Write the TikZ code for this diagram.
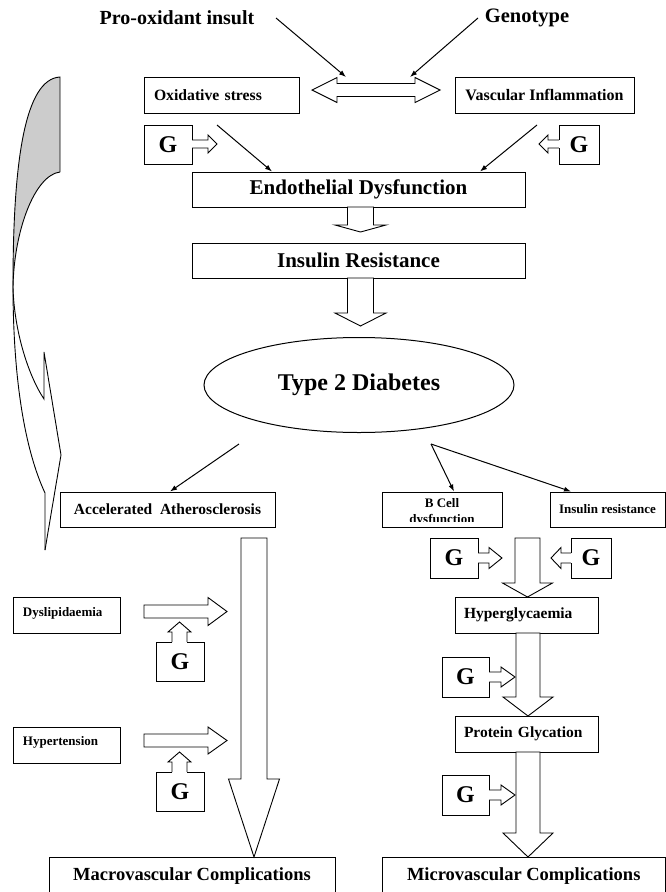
\documentclass[tikz,border=0pt]{standalone}
\usepackage{fontspec}
\setmainfont{Liberation Serif}
\usetikzlibrary{arrows.meta,shapes.geometric}
\newcommand{\fs}[1]{\fontsize{#1}{#1}\selectfont\bfseries}
% horizontal block arrow: #1 base x, #2 head-start x, #3 tip x, #4 centre y, #5 shaft half, #6 head half
\newcommand{\rightblk}[6]{\draw[blk] (#1,#4-#5) -- (#2,#4-#5) -- (#2,#4-#6) -- (#3,#4) -- (#2,#4+#6) -- (#2,#4+#5) -- (#1,#4+#5) -- cycle;}
% same, open at its base (merging into a box); #7 signed overlap into the box
\newcommand{\rightopen}[7]{\fill[white] (#1+#7,#4-#5) rectangle (#2,#4+#5);
  \draw[blk,fill=none] (#1,#4-#5) -- (#2,#4-#5) -- (#2,#4-#6) -- (#3,#4) -- (#2,#4+#6) -- (#2,#4+#5) -- (#1,#4+#5);
  \fill[white] (#1+#7,#4-#5+0.5) rectangle (#1,#4+#5-0.5);}
% vertical block arrow: #1 centre x, #2 base y, #3 head-start y, #4 tip y, #5 shaft half, #6 head half
\newcommand{\downblk}[6]{\draw[blk] (#1-#5,#2) -- (#1-#5,#3) -- (#1-#6,#3) -- (#1,#4) -- (#1+#6,#3) -- (#1+#5,#3) -- (#1+#5,#2) -- cycle;}
\newcommand{\downopen}[7]{\fill[white] (#1-#5,#2+#7) rectangle (#1+#5,#3);
  \draw[blk,fill=none] (#1-#5,#2) -- (#1-#5,#3) -- (#1-#6,#3) -- (#1,#4) -- (#1+#6,#3) -- (#1+#5,#3) -- (#1+#5,#2);
  \fill[white] (#1-#5+0.5,#2+#7) rectangle (#1+#5-0.5,#2);}
\begin{document}
\begin{tikzpicture}[x=1pt,y=-1pt,
  box/.style={draw,line width=1pt,inner sep=0pt,align=center},
  gbox/.style={box,font=\fs{24}},
  blk/.style={draw,fill=white,line width=0.9pt,line join=miter},
  thinarr/.style={line width=1pt,-{Latex[length=7pt,width=5pt]}},
  plain/.style={inner sep=0pt}]
\useasboundingbox (0,0) rectangle (666,892);

% left curved arrow
\fill[gray!40] (60,77) .. controls (25,79) and (13,160) .. (13,285)
   .. controls (14,230) and (35,175) .. (60,172) -- cycle;
\draw[line width=0.9pt] (60,172) -- (60,77) .. controls (25,79) and (13,160) .. (13,285)
   .. controls (13,380) and (25,450) .. (45,493) -- (45,550);
\draw[line width=0.9pt,line join=miter] (60,172) .. controls (35,175) and (14,230) .. (13,287)
   .. controls (14,330) and (28,375) .. (44,399) -- (44,352) -- (61,455) -- (45,550);

% top texts
\node[plain,font=\fs{20}] (pro) at (177,18) {Pro-oxidant insult};
\node[plain,font=\fs{20.5}] (geno) at (527,18) {Genotype};

% boxes
\node[box,minimum width=155pt,minimum height=36pt,text width=135pt,align=left,font=\fs{15.7}] (ox) at (221.5,95) {Oxidative stress};
\node[box,minimum width=179pt,minimum height=36pt,font=\fs{16}] (vi) at (544.5,95) {Vascular Inflammation};
\node[gbox,minimum width=48pt,minimum height=39pt] (g1) at (168,144.5) {G};
\node[gbox,minimum width=40pt,minimum height=39pt] (g2) at (579,144.5) {G};
\node[box,minimum width=333pt,minimum height=35pt,font=\fs{21}] (endo) at (358.5,189.5) {Endothelial Dysfunction};
\node[box,minimum width=333pt,minimum height=35pt,font=\fs{21}] (ir) at (358.5,260.5) {Insulin Resistance};
\node[draw,ellipse,line width=1pt,minimum width=310pt,minimum height=95pt,inner sep=0pt,font=\fs{24}] (t2d) at (359,385) {Type 2 Diabetes};

\node[box,minimum width=215pt,minimum height=35pt,font=\fs{15.5}] (aa) at (167.5,509.5) {Accelerated\ \ Atherosclerosis};
\node[box,minimum width=120pt,minimum height=35pt] (bc) at (442,509.5) {};
\node[plain,anchor=base,font=\fs{13}] (bct1) at (442,507.5) {B Cell};
\begin{scope}
\clip (383,493) rectangle (501,521);
\node[plain,anchor=base,font=\fs{13}] (bct2) at (442,523.5) {dysfunction};
\end{scope}
\node[box,minimum width=115pt,minimum height=35pt,font=\fs{13}] (irr) at (607.5,509.5) {Insulin resistance};

\node[gbox,minimum width=48pt,minimum height=40pt] (g3) at (454,558) {G};
\node[gbox,minimum width=40pt,minimum height=40pt] (g4) at (591,558) {G};
\node[box,minimum width=143pt,minimum height=36pt,text width=125pt,align=left,font=\fs{15.5}] (hg) at (526.5,615) {Hyperglycaemia};
\node[gbox,minimum width=47pt,minimum height=40pt] (g5) at (465.5,677) {G};
\node[box,minimum width=143pt,minimum height=36pt,text width=125pt,align=left,font=\fs{15.5}] (pg) at (526.5,734) {Protein Glycation};
\node[gbox,minimum width=47pt,minimum height=40pt] (g6) at (465.5,795) {G};

\node[box,minimum width=107pt,minimum height=36pt,text width=87pt,align=left,text height=9pt,text depth=6pt,font=\fs{13}] (dys) at (66.5,615) {Dyslipidaemia};
\node[box,minimum width=107pt,minimum height=36pt,text width=87pt,align=left,text height=9pt,text depth=9pt,font=\fs{13}] (hyp) at (66.5,745) {Hypertension};
\node[gbox,minimum width=48pt,minimum height=39pt] (g7) at (180,661.5) {G};
\node[gbox,minimum width=48pt,minimum height=39pt] (g8) at (180,791.5) {G};

\node[box,minimum width=286pt,minimum height=38pt,font=\fs{18.5}] (macro) at (192,876) {Macrovascular Complications};
\node[box,minimum width=283.5pt,minimum height=38pt,font=\fs{18.5}] (micro) at (523.75,876) {Microvascular Complications};

% thin arrows
\coordinate (p1) at (276,18); \coordinate (p2) at (346,77);
\coordinate (q1) at (478,18); \coordinate (q2) at (410,77);
\draw[thinarr] (p1) -- (p2);
\draw[thinarr] (q1) -- (q2);
\coordinate (o1) at (217,125); \coordinate (v1) at (537,125);
\draw[thinarr] (o1) -- (endo.north west -| 272,0);
\draw[thinarr] (v1) -- (endo.north west -| 480,0);
\coordinate (d1) at (239,444); \coordinate (d2) at (431,444);
\draw[thinarr] (d1) -- (aa.north west -| 170,0);
\draw[thinarr] (d2) -- (bc.north west -| 454,0);
\draw[thinarr] (d2) -- (irr.north west -| 571,0);

% double block arrow
\draw[blk] (312,90) -- (337,77.5) -- (337,83.5) -- (415,83.5) -- (415,77.5) -- (440,90)
  -- (415,102.5) -- (415,96.5) -- (337,96.5) -- (337,102.5) -- cycle;

% block arrows
\rightopen{192}{208}{217}{144}{4}{9}{-1.5}
\rightopen{559}{548}{539}{144}{4}{9}{1.5}
\downblk{360.5}{207}{225}{232}{13}{25.5}
\downblk{360.5}{278}{313}{326}{13}{25.5}
\rightopen{478}{489}{502}{558}{5}{10.5}{-1.5}
\rightopen{571}{561}{551}{558}{5}{10.5}{1.5}
\downblk{527.5}{538}{583}{597}{12.5}{25}
\downblk{528}{633}{697}{716}{12}{25}
\downblk{528}{752}{833}{857}{12}{25}
\rightopen{489}{501}{515}{677}{5}{10}{-1.5}
\rightopen{489}{501}{515}{795}{5}{10}{-1.5}
\downblk{254}{538}{779}{857}{13}{25.5}
\rightblk{144}{208}{227}{611.5}{6.5}{14}
\rightblk{144}{208}{227}{740.5}{6.5}{13.5}
\downopen{179.5}{642}{632}{622}{7.5}{11.5}{1.5}
\downopen{179.5}{772}{762}{752}{7.5}{11.5}{1.5}
\end{tikzpicture}
\end{document}
